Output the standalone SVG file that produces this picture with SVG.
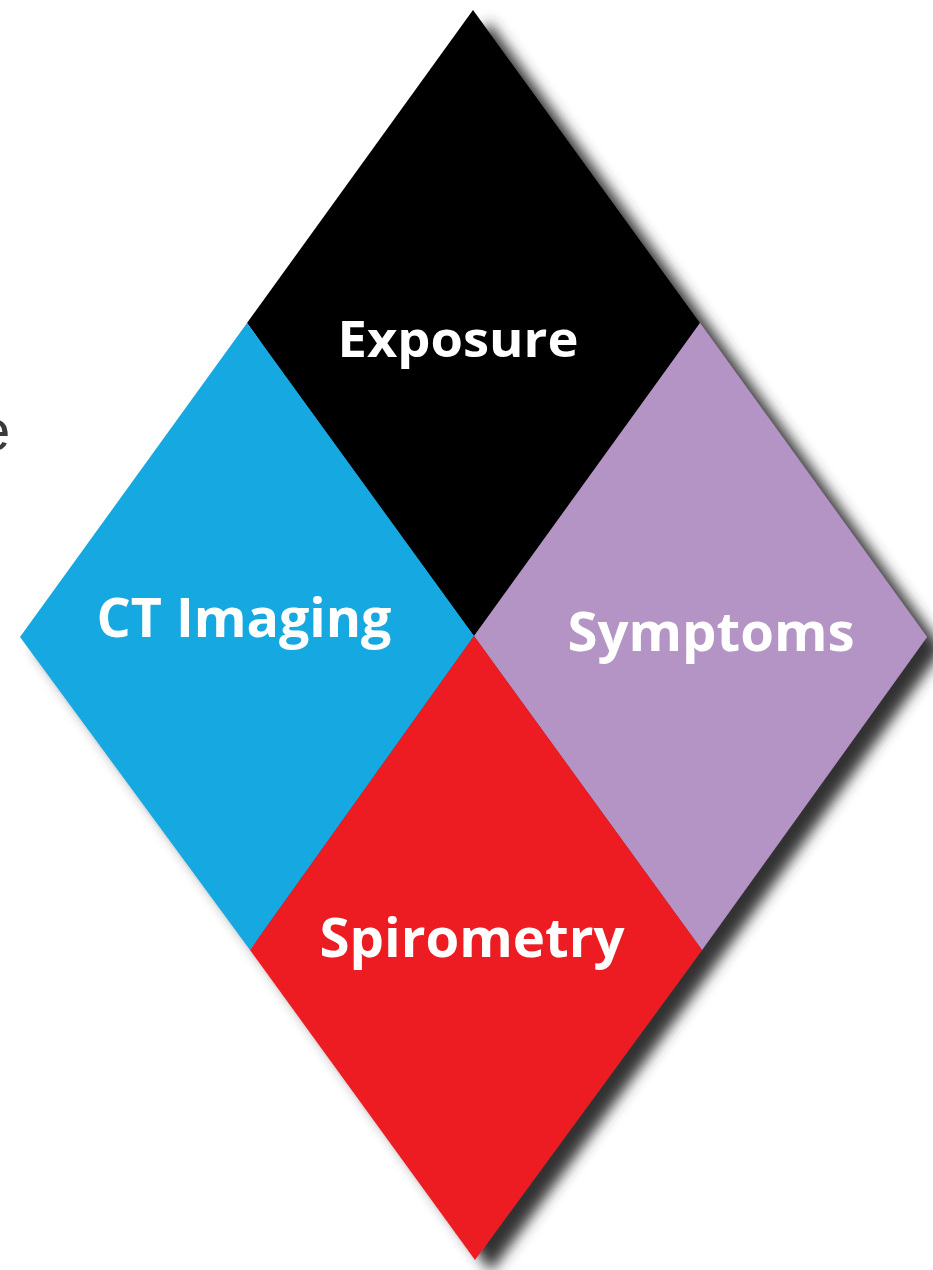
<svg xmlns="http://www.w3.org/2000/svg" width="933" height="1270" viewBox="0 0 933 1270">
  <defs>
    <filter id="shadow" x="-10%" y="-10%" width="130%" height="130%">
      <feGaussianBlur in="SourceAlpha" stdDeviation="7"/>
      <feOffset dx="16" dy="12" result="b"/>
      <feFlood flood-color="#333333" flood-opacity="1"/>
      <feComposite in2="b" operator="in"/>
      <feMerge><feMergeNode/><feMergeNode in="SourceGraphic"/></feMerge>
    </filter>
  </defs>
  <style>
    .lbl { font-family: "Open Sans", "Liberation Sans", sans-serif; font-weight: bold; fill: #ffffff; text-anchor: middle; }
  </style>
  <rect width="933" height="1270" fill="#ffffff"/>
  <text x="-22" y="450" font-family="Liberation Sans, sans-serif" font-size="58" fill="#3a3a3a">e</text>
  <g filter="url(#shadow)">
    <g id="exposure">
      <polygon points="473,10 700,323 474,636 247,323" fill="#000000"/>
    </g>
    <g id="ct-imaging">
      <polygon points="247,323 474,636 250,950 20,637" fill="#17a9e1"/>
    </g>
    <g id="symptoms">
      <polygon points="700,323 927,637 702,950 474,636" fill="#b493c5"/>
    </g>
    <g id="spirometry">
      <polygon points="474,636 702,950 475,1260 250,950" fill="#ec1c24"/>
    </g>
  </g>
  <text class="lbl" x="458" y="357" font-size="51" textLength="241" lengthAdjust="spacingAndGlyphs">Exposure</text>
  <text class="lbl" x="244" y="637" font-size="54" textLength="295" lengthAdjust="spacingAndGlyphs">CT Imaging</text>
  <text class="lbl" x="711" y="651" font-size="53" textLength="287" lengthAdjust="spacingAndGlyphs">Symptoms</text>
  <text class="lbl" x="472" y="957" font-size="53" textLength="305" lengthAdjust="spacingAndGlyphs">Spirometry</text>
  <g id="connectors"/>
</svg>
